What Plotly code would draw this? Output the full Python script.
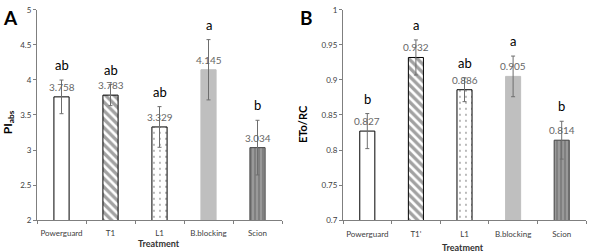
import plotly.graph_objects as go

# ---- data ----
cats_a = ["Powerguard", "T1", "L1", "B.blocking", "Scion"]
pi_abs = [3.758, 3.783, 3.329, 4.145, 3.034]
pi_err = [0.24, 0.15, 0.29, 0.43, 0.39]
letters_a = ["ab", "ab", "ab", "a", "b"]

cats_b = ["Powerguard", "T1'", "L1", "B.blocking", "Scion"]
eto_rc = [0.827, 0.932, 0.886, 0.905, 0.814]
eto_err = [0.025, 0.025, 0.017, 0.029, 0.027]
letters_b = ["b", "a", "ab", "a", "b"]

# ---- styles ----
fills = ["white", "white", "white", "#bfbfbf", "#999999"]
shapes = ["", "\\", ".", "", "|"]
fgs = ["black", "black", "#333333", "#bfbfbf", "#3a3a3a"]
lines = ["black", "black", "black", "#bfbfbf", "#404040"]
font = "Lato, 'Open Sans', sans-serif"

W, H = 591, 252
fig = go.Figure()

def add_panel(cats, vals, errs, letters, xa, ya, suffix):
    fig.add_trace(go.Bar(
        x=cats, y=vals, width=0.31,
        marker=dict(color=fills, line=dict(color=lines, width=1),
                    pattern=dict(shape=shapes, fgcolor=fgs, bgcolor=fills,
                                 size=[6, 6, 6, 6, 4], solidity=[0.3, 0.55, 0.08, 0.3, 0.3])),
        error_y=dict(type="data", array=errs, color="#6e6e6e", thickness=1, width=2),
        xaxis="x" + suffix, yaxis="y" + suffix, showlegend=False,
    ))
    for c, v, e, l in zip(cats, vals, errs, letters):
        fig.add_annotation(x=c, y=v, xref=xa, yref=ya, text=f"{v:.3f}", showarrow=False,
                           yanchor="bottom", yshift=2, font=dict(size=10, color="#666666", family=font))
        fig.add_annotation(x=c, y=v + e, xref=xa, yref=ya, text=l, showarrow=False,
                           yanchor="bottom", yshift=5, font=dict(size=13, color="black", family=font))

add_panel(cats_a, pi_abs, pi_err, letters_a, "x", "y", "")
add_panel(cats_b, eto_rc, eto_err, letters_b, "x2", "y2", "2")

ydom = [1 - 224 / H, 1 - 5 / H]
axis_common = dict(showline=True, linecolor="#7f7f7f", linewidth=1, ticks="outside",
                   ticklen=3, tickcolor="#7f7f7f", showgrid=False, zeroline=False,
                   ticklabeloverflow="allow",
                   tickfont=dict(size=8, color="#404040", family=font))

fig.update_layout(
    width=W, height=H, margin=dict(l=0, r=0, t=0, b=0),
    paper_bgcolor="white", plot_bgcolor="white",
    xaxis=dict(domain=[37 / W, 282 / W], anchor="y", tickson="boundaries", tickangle=0,
               ticklabelstandoff=5, **axis_common),
    yaxis=dict(domain=ydom, anchor="x", range=[2, 5.0001], tickvals=[2, 2.5, 3, 3.5, 4, 4.5, 5],
               ticktext=["2", "2.5", "3", "3.5", "4", "4.5", "5"], **axis_common),
    xaxis2=dict(domain=[343 / W, 586 / W], anchor="y2", tickson="boundaries", tickangle=0,
                ticklabelstandoff=6, **axis_common),
    yaxis2=dict(domain=ydom, anchor="x2", range=[0.7, 1.00001],
                tickvals=[0.7, 0.75, 0.8, 0.85, 0.9, 0.95, 1.0],
                ticktext=["0.7", "0.75", "0.8", "0.85", "0.9", "0.95", "1"], **axis_common),
)

def label(x, y, text, size, color="black", angle=0):
    fig.add_annotation(x=x / W, y=1 - y / H, xref="paper", yref="paper", text=text,
                       xanchor="center", yanchor="middle", textangle=angle, showarrow=False,
                       font=dict(size=size, color=color, family=font))

label(10, 13, "<b>A</b>", 19)
label(306, 13, "<b>B</b>", 19)
label(8, 122, "<b>PI<sub>abs</sub></b>", 12, angle=-90)
label(302, 124, "<b>ETo/RC</b>", 11, angle=-90)
label(159, 248, "<b>Treatment</b>", 9, "#333333")
label(463, 252, "<b>Treatment</b>", 9, "#333333")

fig.write_html("out.html")
